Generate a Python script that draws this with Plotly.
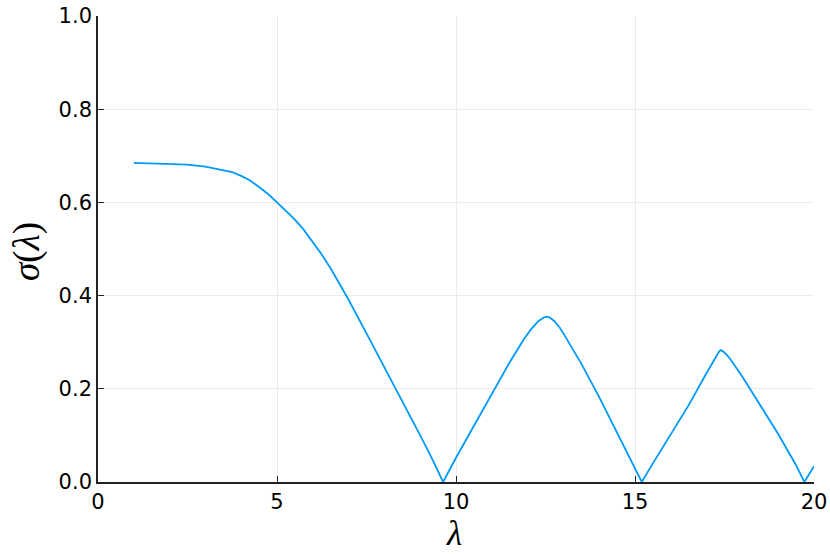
import plotly.graph_objects as go

# sigma(lambda)
lam = [1.0, 1.5, 2.0, 2.5, 3.0, 3.5, 3.75, 4.0, 4.25, 4.5, 4.75, 5.0, 5.25, 5.5,
       5.75, 6.0, 6.25, 6.5, 6.75, 7.0, 7.5, 8.0, 8.5, 9.0, 9.3, 9.64,
       10.0, 10.5, 11.0, 11.5, 11.9, 12.1, 12.3, 12.45, 12.53, 12.62, 12.75,
       12.9, 13.0, 13.5, 14.0, 14.5, 15.0, 15.19,
       15.5, 16.0, 16.5, 17.0, 17.25, 17.35, 17.39, 17.45, 17.55, 17.65,
       18.0, 18.5, 19.0, 19.5, 19.73, 20.0]
sigma = [0.685, 0.684, 0.683, 0.681, 0.677, 0.670, 0.665, 0.657, 0.647, 0.633,
         0.618, 0.600, 0.582, 0.563, 0.541, 0.515, 0.488, 0.458, 0.425, 0.391,
         0.319, 0.247, 0.174, 0.100, 0.055, 0.0,
         0.052, 0.120, 0.189, 0.257, 0.307, 0.328, 0.345, 0.353, 0.355, 0.353,
         0.345, 0.331, 0.319, 0.254, 0.182, 0.106, 0.030, 0.0,
         0.040, 0.101, 0.165, 0.234, 0.268, 0.280, 0.283, 0.281, 0.274, 0.265,
         0.226, 0.165, 0.103, 0.036, 0.0, 0.034]

x_ticks = [0, 5, 10, 15, 20]
y_ticks = [0.0, 0.2, 0.4, 0.6, 0.8, 1.0]

fig = go.Figure()
fig.add_trace(go.Scatter(x=lam, y=sigma, mode="lines",
                         line=dict(color="#009AFA", width=1.8),
                         showlegend=False, hoverinfo="skip"))

axis_common = dict(
    showgrid=True, gridcolor="#ebebeb", gridwidth=1,
    showline=True, linecolor="#222222", linewidth=1.6,
    ticks="inside", ticklen=6, tickwidth=1.4, tickcolor="#222222",
    tickfont=dict(family="DejaVu Sans", size=21, color="black"),
    zeroline=False, mirror=False, automargin=False,
)

fig.update_layout(
    width=830, height=554,
    margin=dict(l=98, r=16, t=16, b=72),
    paper_bgcolor="white", plot_bgcolor="white",
    xaxis=dict(range=[0, 20], tickvals=x_ticks, ticktext=[str(v) for v in x_ticks],
               **axis_common),
    yaxis=dict(range=[0, 1], tickvals=y_ticks, ticktext=[f"{v:.1f}" for v in y_ticks],
               **axis_common),
)

title_font = dict(family="Liberation Serif", size=37, color="black")
fig.add_annotation(text="<i>λ</i>", xref="paper", yref="paper", x=0.497, y=-0.1095,
                   xanchor="center", yanchor="middle", showarrow=False,
                   font=dict(family="Liberation Serif", size=35, color="black"),
                   borderpad=0)
fig.add_annotation(text="<i>σ</i>(<i>λ</i>)", xref="paper", yref="paper", x=-0.099,
                   y=0.494, xanchor="center", yanchor="middle", textangle=-90,
                   showarrow=False, font=title_font, borderpad=0)

# drop the browser's default body margin so the figure sits at the page origin
fig.write_html("out.html", config={"displayModeBar": False},
               post_script="document.body.style.margin = '0';")
